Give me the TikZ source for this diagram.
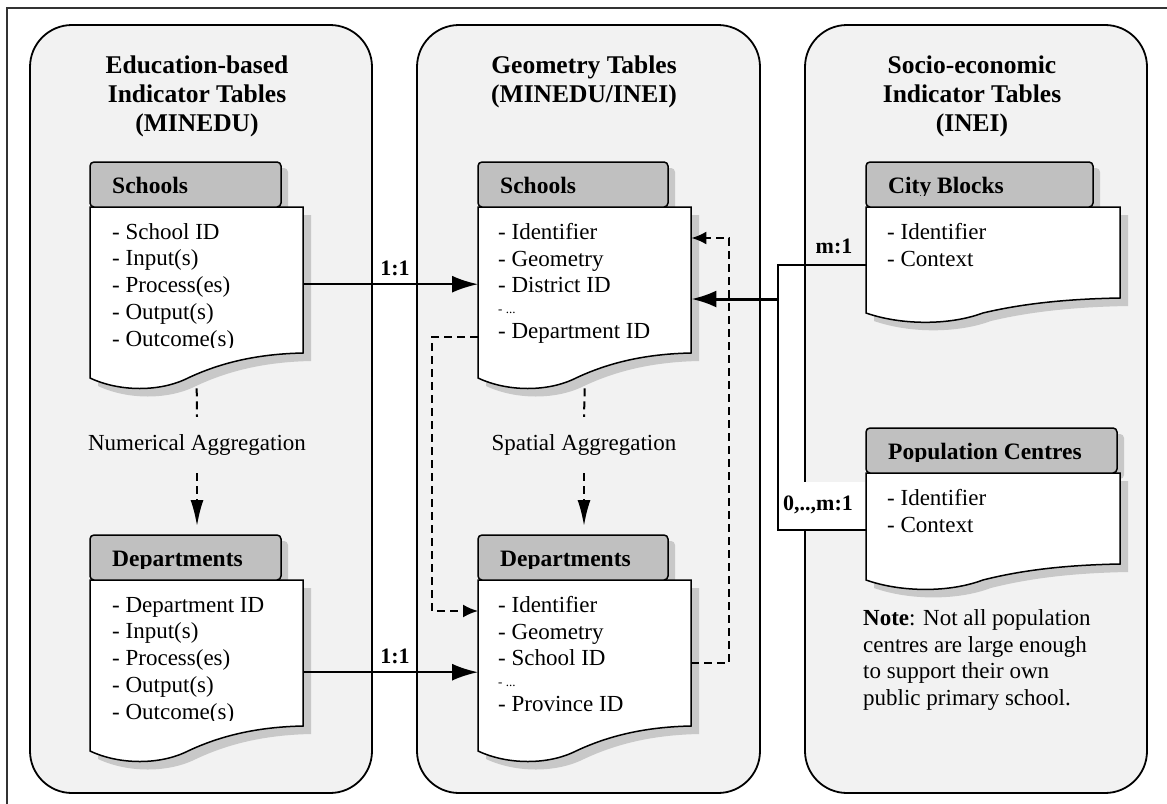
\documentclass[tikz,border=0pt]{standalone}
\usepackage{fontspec}
\setmainfont{Liberation Serif}
\usetikzlibrary{arrows.meta}

\definecolor{panelfill}{HTML}{F2F2F2}
\definecolor{headfill}{HTML}{C0C0C0}
\definecolor{shadowgray}{HTML}{C8C8C8}
\definecolor{framegray}{HTML}{333333}

\tikzset{
  panel/.style={draw=black, line width=1.8pt, fill=panelfill, rounded corners=42pt},
  headbox/.style={draw=black, line width=1.5pt, fill=headfill, rounded corners=4pt},
  bodybox/.style={draw=black, line width=1.5pt, fill=white},
  ttl/.style={anchor=base, inner sep=0pt, font=\bfseries\fontsize{25.5}{29}\selectfont},
  hdr/.style={anchor=base west, inner sep=0pt, font=\bfseries\fontsize{23.5}{27}\selectfont},
  itm/.style={anchor=base west, inner sep=0pt, font=\fontsize{23}{27}\selectfont},
  dots/.style={anchor=base west, inner sep=0pt, font=\fontsize{13}{15}\selectfont},
  card/.style={anchor=base, inner sep=0pt, font=\bfseries\fontsize{22}{25}\selectfont},
  note/.style={anchor=base west, inner sep=0pt, font=\fontsize{23}{27}\selectfont},
  aggtext/.style={anchor=base, inner sep=0pt, font=\fontsize{23}{27}\selectfont},
  link/.style={line width=2.2pt, -{Latex[length=26pt,width=17pt]}},
  feed/.style={line width=3pt, -{Latex[length=25pt,width=17pt]}},
  wire/.style={line width=2.2pt},
  aggline/.style={line width=2pt, dash pattern=on 8pt off 5pt},
  agg/.style={aggline, -{Latex[length=26pt,width=13pt]}},
  ref/.style={aggline, -{Latex[length=15pt,width=13pt]}},
}

% #1 name, #2 x, #3 y, #4 header width, #5 body width,
% #6 body depth at the right, #7 body depth at the left, #8 heading, #9 body text
\newcommand\dbtable[9]{%
  \begin{scope}[shift={(#2,#3)}]
    \pgfmathsetmacro\tbC{10+0.16*(#7-#6)}%
    \fill[shadowgray, rounded corners=4pt] (7,6) rectangle ({#4+7},51);
    \begin{scope}[shift={(8,8)}]
      \fill[shadowgray] (0,45) -- (#5,45) -- (#5,{45+#6})
        .. controls ({0.78*#5},{46+#6}) and ({0.61*#5},{45+#7-0.6*(#7-#6)}) .. ({0.46*#5},{45+#7})
        .. controls ({0.33*#5},{45+#7+\tbC}) and ({0.14*#5},{45+#7+\tbC}) .. (0,{45+#7}) -- cycle;
    \end{scope}
    \draw[bodybox] (0,45) -- (#5,45) -- (#5,{45+#6})
        .. controls ({0.78*#5},{46+#6}) and ({0.61*#5},{45+#7-0.6*(#7-#6)}) .. ({0.46*#5},{45+#7})
        .. controls ({0.33*#5},{45+#7+\tbC}) and ({0.14*#5},{45+#7+\tbC}) .. (0,{45+#7}) -- cycle;
    \draw[headbox] (0,0) rectangle (#4,45);
    \node[inner sep=0pt, minimum width=#5pt, minimum height=#6pt, anchor=north west] (#1) at (0,45) {};
    \node[inner sep=0pt, minimum width=#4pt, minimum height=45pt, anchor=north west] (#1-h) at (0,0) {};
    \begin{scope}
      \clip (0,0) rectangle (#4,33);
      \node[hdr] (#1-t) at (22,31.5) {#8};
    \end{scope}
    #9
  \end{scope}}

\begin{document}
\begin{tikzpicture}[x=1pt,y=-1pt]
\useasboundingbox (0,0) rectangle (1167,803);

% outer frame
\draw[framegray, line width=1.5pt] (7,812) -- (7,8) -- (1175,8);

% the three groups of tables
\draw[panel] (30,25) rectangle (372,793);
\draw[panel] (417,25) rectangle (760,793);
\draw[panel] (805,25) rectangle (1147,793);

\node[ttl] (t1a) at (197,73) {Education-based};
\node[ttl] (t1b) at (197,102) {Indicator Tables};
\node[ttl] (t1c) at (197,131) {(MINEDU)};
\node[ttl] (t2a) at (584,73) {Geometry Tables};
\node[ttl] (t2b) at (584,102) {(MINEDU/INEI)};
\node[ttl] (t3a) at (972,73) {Socio-economic};
\node[ttl] (t3b) at (972,102) {Indicator Tables};
\node[ttl] (t3c) at (972,131) {(INEI)};

% education-based tables
\dbtable{s1}{90}{162}{191}{213}{146}{171}{Schools}{%
  \begin{scope}
    \clip (0,45) rectangle (213,185);
    \foreach \t [count=\i from 0] in {School ID,Input(s),Process(es),Output(s),Outcome(s)}
      \node[itm] (s1-l\i) at (22,{77+26.8*\i}) {- \t};
  \end{scope}}
\dbtable{d1}{90}{535}{191}{213}{146}{171}{Departments}{%
  \begin{scope}
    \clip (0,45) rectangle (213,185);
    \foreach \t [count=\i from 0] in {Department ID,Input(s),Process(es),Output(s),Outcome(s)}
      \node[itm] (d1-l\i) at (22,{77+26.8*\i}) {- \t};
  \end{scope}}

% geometry tables
\dbtable{s2}{478}{162}{190}{213}{146}{171}{Schools}{%
  \node[itm] (s2-l0) at (20,77) {- Identifier};
  \node[itm] (s2-l1) at (20,104.3) {- Geometry};
  \node[itm] (s2-l2) at (20,130.7) {- District ID};
  \node[dots] (s2-l3) at (20,151) {- ...};
  \node[itm] (s2-l4) at (20,176) {- Department ID};}
\dbtable{d2}{478}{535}{190}{213}{146}{171}{Departments}{%
  \node[itm] (d2-l0) at (20,77) {- Identifier};
  \node[itm] (d2-l1) at (20,104.3) {- Geometry};
  \node[itm] (d2-l2) at (20,130.7) {- School ID};
  \node[dots] (d2-l3) at (20,151) {- ...};
  \node[itm] (d2-l4) at (20,176) {- Province ID};}

% socio-economic tables
\dbtable{cb}{866}{162}{227}{254}{91}{106}{City Blocks}{%
  \node[itm] (cb-l0) at (21,77) {- Identifier};
  \node[itm] (cb-l1) at (21,104) {- Context};}
\dbtable{pc}{866}{428}{251}{254}{91}{107}{Population Centres}{%
  \node[itm] (pc-l0) at (21,77) {- Identifier};
  \node[itm] (pc-l1) at (21,104) {- Context};}

\node[note] (n1) at (863,625) {\textbf{Note}: Not all population};
\node[note] (n2) at (863,652) {centres are large enough};
\node[note] (n3) at (863,678) {to support their own};
\node[note] (n4) at (863,705) {public primary school.};

% one-to-one links
\draw[link] ([yshift=-4pt]s1.east) -- ([yshift=-4pt]s2.west);
\node[card] (c1) at (395,275) {1:1};
\draw[link] ([yshift=-19pt]d1.east) -- ([yshift=-19pt]d2.west);
\node[card] (c2) at (395,663) {1:1};

% aggregations
\node[aggtext] (agg1) at (197,450) {Numerical Aggregation};
\node[aggtext] (agg2) at (584,450) {Spatial Aggregation};
\coordinate (e1) at ([yshift=9pt]d1-h.north);
\coordinate (e2) at ([yshift=9pt]d2-h.north);
\draw[aggline] ([yshift=-35pt]s1.south) -- ([yshift=17pt]agg1.north);
\draw[agg] ([yshift=-18pt]agg1.south) -- (agg1.south |- e1);
\draw[aggline] ([yshift=-35pt]s2.south) -- ([yshift=17pt]agg2.north);
\draw[agg] ([yshift=-18pt]agg2.south) -- (agg2.south |- e2);

% cross references between the geometry tables
\coordinate (ra) at (432,337);
\coordinate (rb) at (432,611);
\draw[ref] (s2.west |- ra) -- (ra) -- (rb) -- (d2.west |- rb);
\coordinate (rc) at (729,663);
\coordinate (rd) at (729,238);
\draw[ref] (d2.east |- rc) -- (rc) -- (rd) -- (s2.east |- rd);

% many-to-one links from the socio-economic tables
\fill[white] (779,482) rectangle (865,529);
\node[card] (c4) at (818,510) {0,..,m:1};
\node[card] (c3) at (834,253) {m:1};
\coordinate (jtop) at (778,265);
\coordinate (jn) at (778,299);
\coordinate (jbot) at (778,530);
\draw[wire] (cb.west |- jtop) -- (jtop) -- (jbot) -- (pc.west |- jbot);
\draw[feed] (jn) -- (s2.east |- jn);
\end{tikzpicture}
\end{document}
